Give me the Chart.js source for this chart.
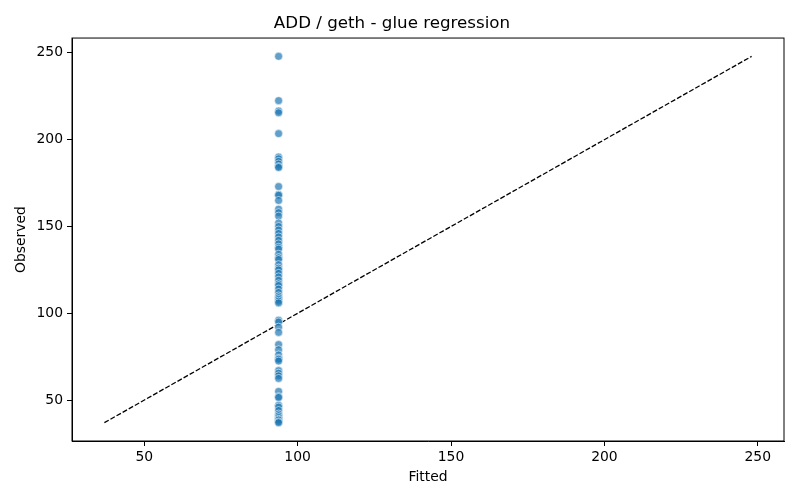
<!DOCTYPE html>
<html lang="en">
  <head>
    <meta charset="UTF-8" />
    <title>ADD / geth - glue regression</title>
    <script src="https://cdn.jsdelivr.net/npm/chart.js"></script>
    <style>
      body {
        margin: 0;
        padding: 0;
        background-color: #fff;
      }
      #chartContainer {
        width: 800px;
        height: 500px;
      }
    </style>
  </head>
  <body>
    <div id="chartContainer">
      <canvas id="glueChart"></canvas>
    </div>

    <script>
      // Fitted value is the same for every run
      const fittedValue = 93.8;

      const observedValues = [
        248, 222.5, 216.5, 215.5, 203.5,
        190, 189, 187.5, 186, 184.5, 184,
        173, 168.5, 168, 165, 160, 158, 156, 152, 150, 148, 146, 144, 142,
        140, 138, 137, 134, 132, 131, 128, 126, 125, 123, 121, 119, 117,
        116, 114, 112, 110, 109, 108, 107, 106,
        96, 95, 92, 89,
        82, 79, 76, 74, 73.5, 72.5,
        67, 65.5, 64, 62.5,
        55, 52, 51.5, 47, 46, 44, 42, 41, 40, 39, 38.5, 37.5, 37,
      ];

      // Identity line end points (min and max observed)
      const identityLine = [37, 248];

      const xTicks = [50, 100, 150, 200, 250];
      const yTicks = [50, 100, 150, 200, 250];
      const axisMin = 26.45;
      const axisMax = 258.55;

      Chart.defaults.font.family = "'DejaVu Sans', sans-serif";
      Chart.defaults.color = "#000";

      // Draw the top and right spines like matplotlib
      const framePlugin = {
        id: "frame",
        afterDraw(chart) {
          const { ctx, chartArea } = chart;
          ctx.save();
          ctx.strokeStyle = "#000";
          ctx.lineWidth = 1;
          ctx.strokeRect(
            chartArea.left,
            chartArea.top,
            chartArea.right - chartArea.left,
            chartArea.bottom - chartArea.top
          );
          ctx.restore();
        },
      };

      const ctx = document.getElementById("glueChart").getContext("2d");

      new Chart(ctx, {
        data: {
          datasets: [
            {
              type: "line",
              data: identityLine.map((v) => ({ x: v, y: v })),
              borderColor: "#000",
              borderWidth: 1.3,
              borderDash: [5, 2],
              pointRadius: 0,
              fill: false,
              order: 2,
            },
            {
              type: "scatter",
              data: observedValues.map((v) => ({ x: fittedValue, y: v })),
              backgroundColor: "rgba(31, 119, 180, 0.7)",
              borderColor: "rgba(255, 255, 255, 0.7)",
              borderWidth: 0.8,
              pointRadius: 4,
              order: 1,
            },
          ],
        },
        options: {
          responsive: true,
          maintainAspectRatio: false,
          animation: false,
          layout: {
            padding: { left: 0, right: 16, top: 0, bottom: 0 },
          },
          scales: {
            x: {
              type: "linear",
              min: axisMin,
              max: axisMax,
              afterBuildTicks: (axis) => {
                axis.ticks = xTicks.map((v) => ({ value: v }));
              },
              afterFit: (axis) => {
                axis.height = 59;
              },
              grid: {
                drawOnChartArea: false,
                color: "#000",
                tickLength: 5,
              },
              border: { color: "#000" },
              ticks: {
                font: { size: 13.9 },
                padding: 3,
                maxRotation: 0,
              },
              title: {
                display: true,
                text: "Fitted",
                font: { size: 13.9 },
                padding: { top: 0, bottom: 14.5 },
              },
            },
            y: {
              type: "linear",
              min: axisMin,
              max: axisMax,
              afterBuildTicks: (axis) => {
                axis.ticks = yTicks.map((v) => ({ value: v }));
              },
              afterFit: (axis) => {
                axis.width = 72;
              },
              grid: {
                drawOnChartArea: false,
                color: "#000",
                tickLength: 5,
              },
              border: { color: "#000" },
              ticks: {
                font: { size: 13.9 },
                padding: 4,
              },
              title: {
                display: true,
                text: "Observed",
                font: { size: 13.9 },
                padding: { top: 13.5, bottom: 0 },
              },
            },
          },
          plugins: {
            legend: { display: false },
            tooltip: { enabled: false },
            title: {
              display: true,
              text: "ADD / geth - glue regression",
              color: "#000",
              font: { size: 16.7, weight: "normal" },
              padding: { top: 14, bottom: 4 },
            },
          },
        },
        plugins: [framePlugin],
      });
    </script>
  </body>
</html>
